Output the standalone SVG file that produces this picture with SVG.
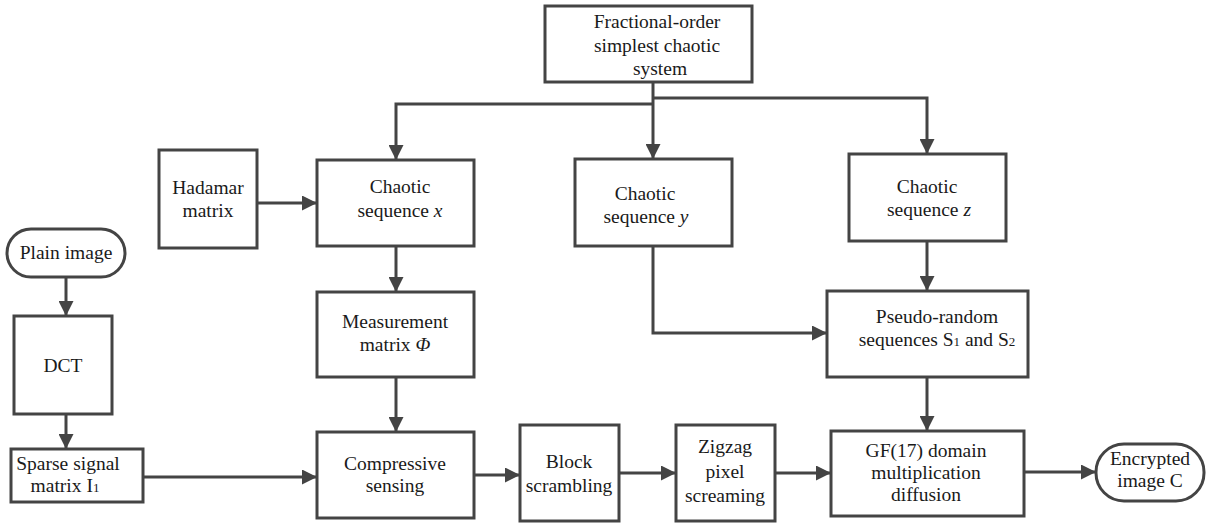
<svg xmlns="http://www.w3.org/2000/svg" width="1214" height="523" viewBox="0 0 1214 523">
<style>
.box{fill:none;stroke:#444;stroke-width:3}
.ln{fill:none;stroke:#444;stroke-width:3}
.arr{marker-end:url(#ah)}
text{font-family:'Liberation Serif','Tinos','Times New Roman','DejaVu Serif',serif;font-size:19.5px;fill:#1a1a1a;text-anchor:middle}
.it{font-style:italic}
.sub{font-size:13px}
</style>
<defs>
<marker id="ah" markerUnits="userSpaceOnUse" markerWidth="15" markerHeight="15" viewBox="0 0 15 15" refX="15" refY="7.5" orient="auto">
<path d="M0,0 L15,7.5 L0,15 z" fill="#444"/>
</marker>
</defs>
<rect width="1214" height="523" fill="#fff"/>
<g id="connectors">
<polyline class="ln" points="653,82 653,104"/>
<polyline class="ln arr" points="653,104 653,159"/>
<polyline class="ln arr" points="653,104 396,104 396,160"/>
<polyline class="ln arr" points="653,98 927,98 927,154"/>
<polyline class="ln arr" points="257,203 317,203"/>
<polyline class="ln arr" points="66,277 66,316"/>
<polyline class="ln arr" points="66,414 66,449"/>
<polyline class="ln arr" points="396,246 396,292"/>
<polyline class="ln arr" points="396,377 396,432"/>
<polyline class="ln arr" points="143,477 317,477"/>
<polyline class="ln arr" points="474,475 520,475"/>
<polyline class="ln arr" points="619,473 676,473"/>
<polyline class="ln arr" points="775,473 831,473"/>
<polyline class="ln arr" points="653,246 653,333 827,333"/>
<polyline class="ln arr" points="927,241 927,291"/>
<polyline class="ln arr" points="927,377 927,431"/>
<polyline class="ln arr" points="1024,472 1096,472"/>
</g>
<g id="fractional">
<rect class="box" x="545" y="6" width="207" height="76"/>
<text x="657" y="28">Fractional-order</text>
<text x="657" y="52">simplest chaotic</text>
<text x="660" y="75">system</text>
</g>
<g id="hadamar">
<rect class="box" x="159" y="150" width="98" height="98"/>
<text x="208" y="194">Hadamar</text>
<text x="208" y="217">matrix</text>
</g>
<g id="chaotic-x">
<rect class="box" x="317" y="160" width="157" height="86"/>
<text x="400" y="193">Chaotic</text>
<text x="400" y="217">sequence <tspan class="it">x</tspan></text>
</g>
<g id="chaotic-y">
<rect class="box" x="575" y="159" width="157" height="87"/>
<text x="645" y="200">Chaotic</text>
<text x="646" y="223">sequence <tspan class="it">y</tspan></text>
</g>
<g id="chaotic-z">
<rect class="box" x="849" y="154" width="157" height="87"/>
<text x="927" y="193">Chaotic</text>
<text x="929" y="216">sequence <tspan class="it">z</tspan></text>
</g>
<g id="plain-image">
<rect class="box" x="7" y="229" width="118" height="48" rx="24"/>
<text x="66" y="259">Plain image</text>
</g>
<g id="dct">
<rect class="box" x="14" y="316" width="98" height="98"/>
<text x="63" y="372">DCT</text>
</g>
<g id="sparse">
<rect class="box" x="11" y="449" width="132" height="53"/>
<text x="68" y="470">Sparse signal</text>
<text x="65" y="492">matrix I<tspan class="sub">1</tspan></text>
</g>
<g id="measurement">
<rect class="box" x="317" y="292" width="157" height="85"/>
<text x="395" y="328">Measurement</text>
<text x="395" y="351">matrix <tspan class="it">Φ</tspan></text>
</g>
<g id="compressive">
<rect class="box" x="317" y="432" width="157" height="86"/>
<text x="395" y="470">Compressive</text>
<text x="395" y="492">sensing</text>
</g>
<g id="block">
<rect class="box" x="520" y="425" width="99" height="96"/>
<text x="569" y="468">Block</text>
<text x="569" y="492">scrambling</text>
</g>
<g id="zigzag">
<rect class="box" x="676" y="425" width="99" height="96"/>
<text x="725" y="453">Zigzag</text>
<text x="725" y="478">pixel</text>
<text x="725" y="502">screaming</text>
</g>
<g id="pseudo">
<rect class="box" x="827" y="291" width="201" height="86"/>
<text x="937" y="323">Pseudo-random</text>
<text x="937" y="346">sequences S<tspan class="sub">1</tspan> and S<tspan class="sub">2</tspan></text>
</g>
<g id="gf">
<rect class="box" x="831" y="431" width="193" height="85"/>
<text x="926" y="457">GF(17) domain</text>
<text x="926" y="479">multiplication</text>
<text x="926" y="501">diffusion</text>
</g>
<g id="encrypted">
<rect class="box" x="1096" y="444" width="108" height="57" rx="28"/>
<text x="1150" y="465">Encrypted</text>
<text x="1150" y="487">image C</text>
</g>
</svg>
